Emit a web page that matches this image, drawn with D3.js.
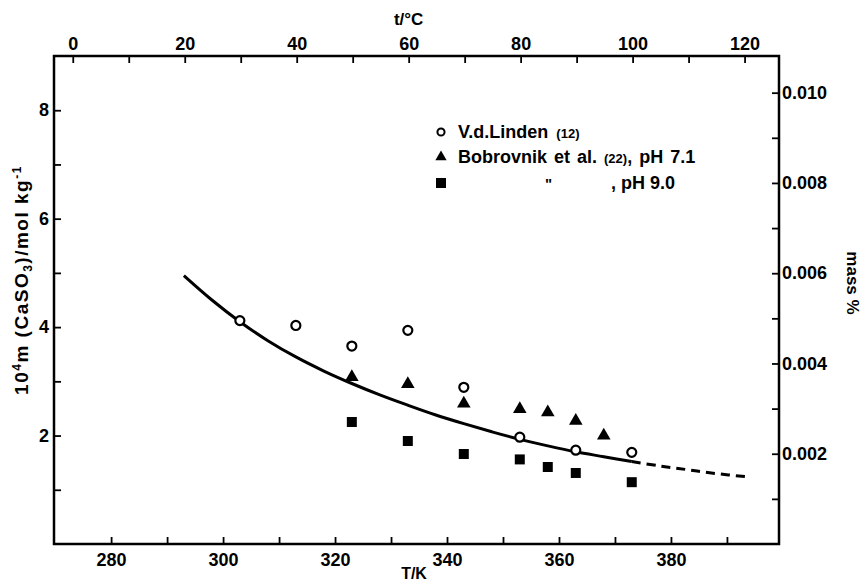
<!DOCTYPE html>
<html><head><meta charset="utf-8">
<script src="https://cdn.jsdelivr.net/npm/d3@7"></script>
<style>
body{margin:0;background:#fff}
text{font-family:"Liberation Sans",Arial,sans-serif;font-weight:bold;fill:#000}
</style></head>
<body><svg id="c" width="864" height="584"></svg>
<script>
// data
const T_linden = [303,313,323,333,343,353,363,373];
const m_linden = [4.12,4.03,3.65,3.94,2.89,1.97,1.73,1.69];
const T_bob71 = [323,333,343,353,358,363,368];
const m_bob71 = [3.08,2.95,2.59,2.49,2.43,2.27,2.0];
const T_bob90 = [323,333,343,353,358,363,373];
const m_bob90 = [2.25,1.90,1.66,1.56,1.42,1.31,1.14];
const T_fit = [293,298,303,308,313,318,323,328,333,338,343,348,353,358,363,368,373];
const m_fit = [4.95,4.50,4.10,3.75,3.45,3.19,2.96,2.75,2.56,2.38,2.22,2.07,1.93,1.81,1.70,1.61,1.52];
const T_ext = [373,378,383,388,393.5];
const m_ext = [1.52,1.44,1.37,1.30,1.24];
const xTicksK = [280,290,300,310,320,330,340,350,360,370,380,390];
const xTicksC = [0,10,20,30,40,50,60,70,80,90,100,110,120];
const yTicks = [1,2,3,4,5,6,7,8];
const y2Ticks = [0.001,0.002,0.003,0.004,0.005,0.006,0.007,0.008,0.009,0.010];

const svg = d3.select("#c");
const L=54,R=779,Tp=56,B=544;
const x = d3.scaleLinear().domain([269.8,399.3]).range([L,R]);
const xc = d3.scaleLinear().domain([269.8-273.15,399.3-273.15]).range([L,R]);
const y = d3.scaleLinear().domain([0,9]).range([B,Tp]);
const massFactor = 1.2014e-3; // mass% per 1e-4 mol/kg
const y2 = d3.scaleLinear().domain([0,9*massFactor]).range([B,Tp]);

function style(g){
  g.select(".domain").remove();
  g.selectAll(".tick line").attr("stroke","#000").attr("stroke-width",1.8);
  g.selectAll(".tick text").style("font-size","18px").style("font-family","Liberation Sans, Arial, sans-serif").style("font-weight","bold");
}
svg.append("g").attr("transform",`translate(0,${B})`)
  .call(d3.axisBottom(x).tickValues(xTicksK).tickSize(-7).tickPadding(9).tickFormat(d=>d%20===0?d:""))
  .call(style);
svg.append("g").attr("transform",`translate(0,${Tp})`)
  .call(d3.axisTop(xc).tickValues(xTicksC).tickSize(-7).tickPadding(6).tickFormat(d=>d%20===0?d:""))
  .call(style);
svg.append("g").attr("transform",`translate(${L},0)`)
  .call(d3.axisLeft(y).tickValues(yTicks).tickSize(-7).tickPadding(5).tickFormat(d=>d%2===0?d:""))
  .call(style);
svg.append("g").attr("transform",`translate(${R},0)`)
  .call(d3.axisRight(y2).tickValues(y2Ticks).tickSize(-7).tickPadding(3).tickFormat(d=>Math.round(d*1000)%2===0?d3.format(".3f")(d):""))
  .call(style);

svg.append("rect").attr("x",L).attr("y",Tp).attr("width",R-L).attr("height",B-Tp)
  .attr("fill","none").attr("stroke","#000").attr("stroke-width",2.5);

// axis titles
svg.append("text").attr("x",(x(340)+x(330))/2-5).attr("y",579).attr("text-anchor","middle").style("font-size","16px").text("T/K");
svg.append("text").attr("x",xc(60)).attr("y",25).attr("text-anchor","middle").style("font-size","17px").text("t/°C");
const yl = svg.append("text").attr("transform","translate(28,280) rotate(-90)").attr("text-anchor","middle").style("font-size","19px").style("letter-spacing","1.5px");
yl.append("tspan").text("10");
yl.append("tspan").attr("dy",-7).style("font-size","12px").text("4");
yl.append("tspan").attr("dy",7).text("m (CaSO");
yl.append("tspan").attr("dy",4).style("font-size","12px").text("3");
yl.append("tspan").attr("dy",-4).text(")/mol kg");
yl.append("tspan").attr("dy",-7).style("font-size","12px").text("-1");
svg.append("text").attr("transform","translate(847,283) rotate(90)").attr("text-anchor","middle").style("font-size","17px").text("mass %");

// curve
const line = d3.line().x(d=>x(d[0])).y(d=>y(d[1])).curve(d3.curveCatmullRom);
svg.append("path").datum(T_fit.map((t,i)=>[t,m_fit[i]])).attr("d",line)
  .attr("fill","none").attr("stroke","#000").attr("stroke-width",3);
svg.append("path").datum(T_ext.map((t,i)=>[t,m_ext[i]])).attr("d",line)
  .attr("fill","none").attr("stroke","#000").attr("stroke-width",3).attr("stroke-dasharray","9,6");

// markers
const circ = d3.symbol().type(d3.symbolCircle).size(64);
const tri = d3.symbol().type(d3.symbolTriangle).size(80);
const sq = d3.symbol().type(d3.symbolSquare).size(100);
svg.append("g").selectAll("path").data(T_linden).join("path")
  .attr("transform",(d,i)=>`translate(${x(d)},${y(m_linden[i])})`).attr("d",circ)
  .attr("fill","#fff").attr("stroke","#000").attr("stroke-width",2.2);
svg.append("g").selectAll("path").data(T_bob71).join("path")
  .attr("transform",(d,i)=>`translate(${x(d)},${y(m_bob71[i])})`).attr("d",tri).attr("fill","#000");
svg.append("g").selectAll("path").data(T_bob90).join("path")
  .attr("transform",(d,i)=>`translate(${x(d)},${y(m_bob90[i])})`).attr("d",sq).attr("fill","#000");

// legend
const lx=441, ly=[132,157,183];
svg.append("path").attr("transform",`translate(${lx},${ly[0]})`).attr("d",d3.symbol().type(d3.symbolCircle).size(40)).attr("fill","#fff").attr("stroke","#000").attr("stroke-width",2);
svg.append("path").attr("transform",`translate(${lx},${ly[1]})`).attr("d",d3.symbol().type(d3.symbolTriangle).size(55)).attr("fill","#000");
svg.append("path").attr("transform",`translate(${lx},${ly[2]})`).attr("d",sq).attr("fill","#000");
const t1 = svg.append("text").attr("x",458).attr("y",ly[0]+6).style("font-size","18px").style("word-spacing","3px");
t1.append("tspan").text("V.d.Linden ");
t1.append("tspan").style("font-size","13px").text("(12)");
const t2 = svg.append("text").attr("x",458).attr("y",ly[1]+6).style("font-size","18px").style("word-spacing","2px");
t2.append("tspan").text("Bobrovnik et al. ");
t2.append("tspan").style("font-size","13px").text("(22)");
t2.append("tspan").text(", pH 7.1");
svg.append("text").attr("x",545).attr("y",ly[2]+6).style("font-size","15px").text("\"");
svg.append("text").attr("x",611).attr("y",ly[2]+6).style("font-size","18px").text(", pH 9.0");
</script></body></html>
